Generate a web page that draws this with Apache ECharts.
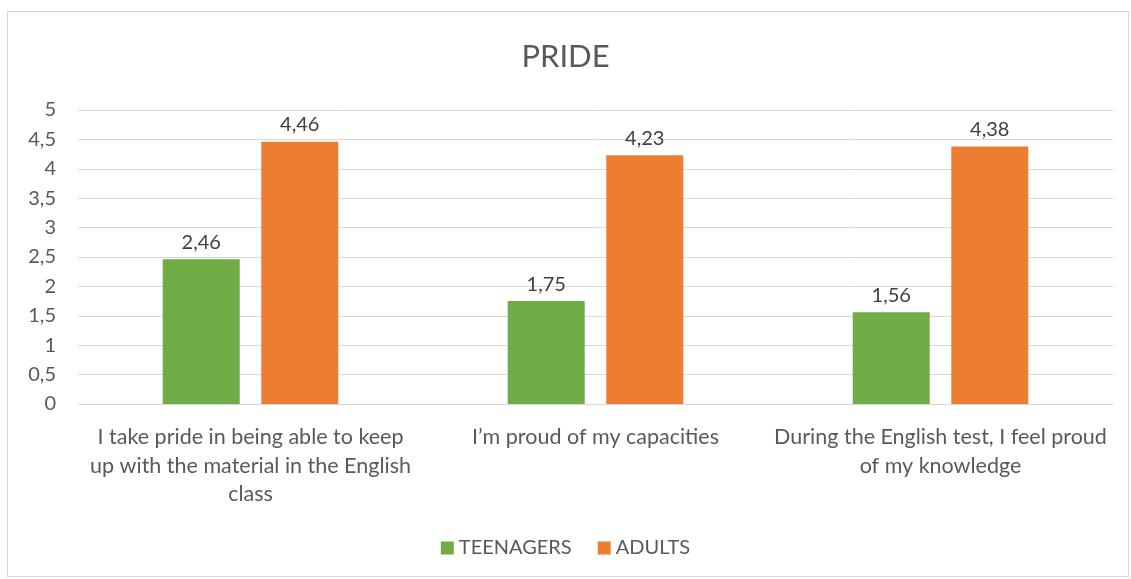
<!DOCTYPE html>
<html>
<head>
<meta charset="utf-8">
<script src="https://cdn.jsdelivr.net/npm/echarts@6/dist/echarts.min.js"></script>
<style>
  html, body { margin: 0; padding: 0; background: #fff; }
  #frame {
    position: absolute;
    left: 7px; top: 11px; width: 1122px; height: 566px;
    border: 1px solid #d9d9d9; box-sizing: border-box;
  }
  #chart { position: absolute; left: 0; top: 0; width: 1131px; height: 579px; }
</style>
</head>
<body>
<div id="frame"></div>
<div id="chart"></div>
<script>
const categories = [
  'I take pride in being able to keep\nup with the material in the English\nclass',
  'I\u2019m proud of my capacities',
  'During the English test, I feel proud\nof my knowledge'
]
const teenagers = [2.46, 1.75, 1.56]
const adults = [4.46, 4.23, 4.38]
const yTicks = [0, 0.5, 1, 1.5, 2, 2.5, 3, 3.5, 4, 4.5, 5]

const font = 'Lato'
const comma = (v) => String(v).replace('.', ',')

const chart = echarts.init(document.getElementById('chart'))

chart.setOption({
  backgroundColor: 'transparent',
  animation: false,
  textStyle: { fontFamily: font },

  title: {
    text: 'PRIDE',
    left: 'center',
    top: 36,
    textStyle: { color: '#595959', fontSize: 31, fontWeight: 'normal', fontFamily: font }
  },

  legend: {
    bottom: 16,
    left: 'center',
    itemWidth: 13,
    itemHeight: 13,
    itemGap: 26,
    icon: 'rect',
    textStyle: { color: '#595959', fontSize: 20, fontFamily: font },
    data: ['TEENAGERS', 'ADULTS']
  },

  grid: {
    left: 78,
    right: 18,
    top: 110,
    bottom: 175
  },

  xAxis: {
    type: 'category',
    data: categories,
    axisLine: { lineStyle: { color: '#d9d9d9', width: 1 } },
    axisTick: { show: false },
    axisLabel: {
      color: '#595959',
      fontSize: 21.5,
      lineHeight: 28.5,
      margin: 19,
      interval: 0,
      fontFamily: font
    }
  },

  yAxis: {
    type: 'value',
    min: yTicks[0],
    max: yTicks[yTicks.length - 1],
    interval: 0.5,
    axisLine: { show: false },
    axisTick: { show: false },
    axisLabel: {
      color: '#595959',
      fontSize: 20,
      margin: 22,
      fontFamily: font,
      formatter: comma
    },
    splitLine: { lineStyle: { color: '#d9d9d9', width: 1 } }
  },

  series: [
    {
      name: 'TEENAGERS',
      type: 'bar',
      data: teenagers,
      barWidth: 77,
      barGap: '28%',
      itemStyle: { color: '#70ad47' },
      label: {
        show: true,
        position: 'top',
        distance: 7,
        color: '#404040',
        fontSize: 20,
        fontFamily: font,
        formatter: (p) => comma(p.value)
      }
    },
    {
      name: 'ADULTS',
      type: 'bar',
      data: adults,
      barWidth: 77,
      itemStyle: { color: '#ed7d31' },
      label: {
        show: true,
        position: 'top',
        distance: 7,
        color: '#404040',
        fontSize: 20,
        fontFamily: font,
        formatter: (p) => comma(p.value)
      }
    }
  ]
})
</script>
</body>
</html>
